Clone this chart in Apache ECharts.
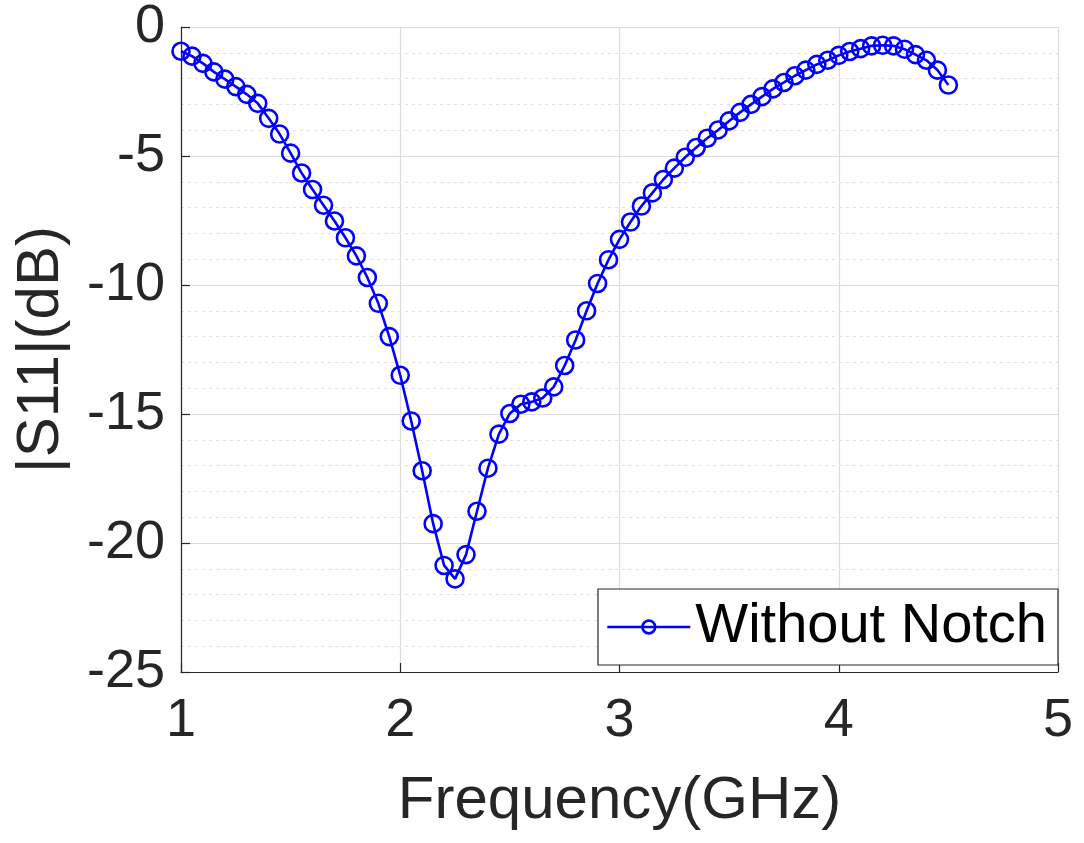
<!DOCTYPE html>
<html>
<head>
<meta charset="utf-8">
<script src="https://cdn.jsdelivr.net/npm/echarts@6/dist/echarts.min.js"></script>
<style>
html,body{margin:0;padding:0;background:#fff;}
#chart{width:1084px;height:843px;}
</style>
</head>
<body>
<div id="chart"></div>
<script>
const freqGHz = [1.00,1.05,1.10,1.15,1.20,1.25,1.30,1.35,1.40,1.45,1.50,1.55,1.60,1.65,1.70,1.75,1.80,1.85,1.90,1.95,
  2.00,2.05,2.10,2.15,2.20,2.25,2.30,2.35,2.40,2.45,2.50,2.55,2.60,2.65,2.70,2.75,2.80,2.85,2.90,2.95,
  3.00,3.05,3.10,3.15,3.20,3.25,3.30,3.35,3.40,3.45,3.50,3.55,3.60,3.65,3.70,3.75,3.80,3.85,3.90,3.95,
  4.00,4.05,4.10,4.15,4.20,4.25,4.30,4.35,4.40,4.45,4.50];
const s11WithoutNotch = [-0.94,-1.13,-1.41,-1.74,-2.02,-2.31,-2.61,-2.96,-3.54,-4.15,-4.89,-5.66,-6.30,-6.91,-7.52,-8.17,-8.87,-9.71,-10.71,-12.00,
  -13.50,-15.27,-17.20,-19.25,-20.87,-21.39,-20.45,-18.77,-17.10,-15.78,-14.98,-14.62,-14.53,-14.38,-13.95,-13.12,-12.13,-11.00,-9.94,-9.02,
  -8.23,-7.56,-6.94,-6.43,-5.91,-5.47,-5.05,-4.67,-4.31,-3.99,-3.64,-3.31,-3.00,-2.70,-2.40,-2.15,-1.89,-1.67,-1.45,-1.29,
  -1.10,-0.95,-0.84,-0.73,-0.71,-0.73,-0.86,-1.07,-1.29,-1.67,-2.25];
const seriesName = 'Without Notch';
const xAxisName = 'Frequency(GHz)';
const yAxisName = '|S11|(dB)';

const font = '"Liberation Sans", Arial, Helvetica, sans-serif';
const chart = echarts.init(document.getElementById('chart'), null, {renderer: 'canvas'});
const data = freqGHz.map((f, i) => [f, s11WithoutNotch[i]]);

chart.setOption({
  animation: false,
  backgroundColor: '#ffffff',
  textStyle: {fontFamily: font},
  grid: {left: 181, top: 26, right: 26, bottom: 171, containLabel: false},
  xAxis: {
    type: 'value', min: 1, max: 5, interval: 1,
    name: xAxisName, nameLocation: 'middle', nameGap: 99,
    nameTextStyle: {fontSize: 60, color: '#262626', fontFamily: font},
    axisLine: {show: true, onZero: false, lineStyle: {color: '#262626', width: 1.2}},
    axisTick: {show: true, inside: true, length: 9, lineStyle: {color: '#262626', width: 1.2}},
    axisLabel: {fontSize: 54, color: '#262626', margin: 22, fontFamily: font},
    splitLine: {show: true, lineStyle: {color: '#dcdcdc', width: 1.2}}
  },
  yAxis: {
    type: 'value', min: -25, max: 0, interval: 5,
    name: yAxisName, nameLocation: 'middle', nameGap: 110,
    nameTextStyle: {fontSize: 60, color: '#262626', fontFamily: font},
    axisLine: {show: true, onZero: false, lineStyle: {color: '#262626', width: 1.2}},
    axisTick: {show: true, inside: true, length: 9, lineStyle: {color: '#262626', width: 1.2}},
    axisLabel: {fontSize: 54, color: '#262626', margin: 16, fontFamily: font},
    splitLine: {show: true, lineStyle: {color: '#dcdcdc', width: 1.2}},
    minorTick: {show: false, splitNumber: 5},
    minorSplitLine: {show: true, lineStyle: {color: '#e2e2e2', width: 1, type: [3, 4]}}
  },
  legend: {
    show: true,
    right: 26, bottom: 178,
    orient: 'horizontal',
    itemWidth: 83, itemHeight: 16,
    padding: [10, 11, 10, 8],
    backgroundColor: '#ffffff',
    borderColor: '#262626', borderWidth: 1.2, borderRadius: 0,
    textStyle: {fontSize: 56, color: '#000000', fontFamily: font},
    lineStyle: {width: 2.6, color: '#0000ff'},
    itemStyle: {borderWidth: 2.6, borderColor: '#0000ff', color: 'rgba(255,255,255,0)'},
    data: [seriesName]
  },
  series: [{
    name: seriesName,
    type: 'line',
    data: data,
    showAllSymbol: true,
    symbol: 'circle',
    symbolSize: 17,
    lineStyle: {color: '#0000ff', width: 2.6},
    itemStyle: {color: 'rgba(255,255,255,0)', borderColor: '#0000ff', borderWidth: 2.6},
    emphasis: {disabled: true},
    z: 3
  }]
});
</script>
</body>
</html>
